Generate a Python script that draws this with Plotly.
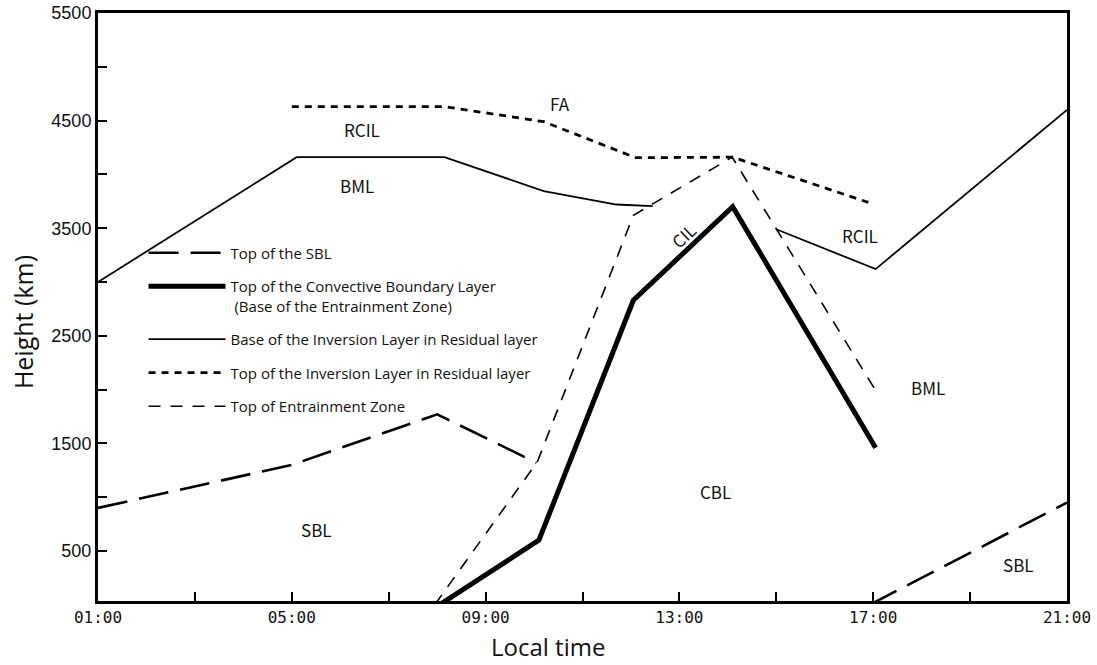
import plotly.graph_objects as go

# Local time in hours (01:00 .. 21:00) and heights of each boundary
sbl_hours = [1, 5, 8, 10.05, None, 16.93, 21]
sbl_height = [900, 1300, 1770, 1320, None, 0, 950]

cbl_hours = [8.05, 10.1, 12.05, 14.1, 17.05]
cbl_height = [0, 600, 2830, 3700, 1460]

inv_base_hours = [1, 5.1, 8.15, 10.2, 11.7, 12.45, None, 15.0, 17.05, 21]
inv_base_height = [3000, 4160, 4160, 3845, 3720, 3705, None, 3490, 3120, 4600]

inv_top_hours = [5.0, 8.15, 10.2, 12.1, 14.1, 16.9]
inv_top_height = [4630, 4630, 4490, 4155, 4160, 3740]

ez_hours = [7.95, 10.07, 12.05, 14.09, 17.08]
ez_height = [0, 1330, 3620, 4160, 1970]

series_names = [
    "Top of the SBL",
    "Top of the Convective Boundary Layer<br> (Base of the Entrainment Zone)",
    "Base of the Inversion Layer in Residual layer",
    "Top of the Inversion Layer in Residual layer",
    "Top of Entrainment Zone",
]

x_tick_vals = [1, 3, 5, 7, 9, 11, 13, 15, 17, 19, 21]
x_tick_text = ["01:00", "", "05:00", "", "09:00", "", "13:00", "", "17:00", "", "21:00"]
y_tick_vals = [500, 1000, 1500, 2000, 2500, 3000, 3500, 4000, 4500, 5000, 5500]
y_tick_text = ["500", "", "1500", "", "2500", "", "3500", "", "4500", "", "5500"]

# Layer names written inside the diagram: (text, hour, height, angle)
region_labels = [
    ("FA", 10.54, 4663, 0),
    ("RCIL", 6.45, 4413, 0),
    ("BML", 6.35, 3900, 0),
    ("CIL", 13.08, 3430, -43),
    ("RCIL", 16.73, 3430, 0),
    ("BML", 18.13, 2015, 0),
    ("CBL", 13.75, 1057, 0),
    ("SBL", 5.52, 695, 0),
    ("SBL", 19.99, 371, 0),
]

fig = go.Figure()

styles = [
    (sbl_hours, sbl_height, 2.6, "30px,12px"),
    (cbl_hours, cbl_height, 5, "solid"),
    (inv_base_hours, inv_base_height, 1.8, "solid"),
    (inv_top_hours, inv_top_height, 2.8, "7px,6px"),
    (ez_hours, ez_height, 1.6, "12px,10px"),
]

for i, (xs, ys, w, dash) in enumerate(styles):
    fig.add_trace(go.Scatter(
        x=xs, y=ys, mode="lines", name=series_names[i],
        legendgroup=f"g{i}",
        line=dict(color="black", width=w, dash=dash),
        connectgaps=False,
    ))

for text, hx, hy, ang in region_labels:
    fig.add_annotation(
        x=hx, y=hy, text=text, showarrow=False, textangle=ang,
        font=dict(family="Noto Sans CJK SC", size=17, color="#111"),
    )

# Axis titles
fig.add_annotation(
    xref="paper", yref="paper", x=-0.078, y=0.475, text="Height (km)",
    xanchor="center", yanchor="middle",
    textangle=-90, showarrow=False,
    font=dict(family="Open Sans", size=25, color="#111"),
)
fig.add_annotation(
    xref="paper", yref="paper", x=0.464, y=-0.078, text="Local time",
    xanchor="center", yanchor="middle",
    showarrow=False, font=dict(family="Open Sans", size=24, color="#111"),
)

fig.update_xaxes(
    range=[1, 21], tickmode="array", tickvals=x_tick_vals, ticktext=x_tick_text,
    ticks="inside", ticklen=9, tickwidth=2, tickcolor="black",
    showline=True, linewidth=3, linecolor="black", mirror=True,
    showgrid=False, zeroline=False, automargin=False,
    tickfont=dict(family="DejaVu Sans Mono", size=16, color="#111"),
)
fig.update_yaxes(
    range=[35, 5500], tickmode="array", tickvals=y_tick_vals, ticktext=y_tick_text,
    ticks="inside", ticklen=9, tickwidth=2, tickcolor="black",
    showline=True, linewidth=3, linecolor="black", mirror=True,
    showgrid=False, zeroline=False, automargin=False,
    tickfont=dict(family="Liberation Sans", size=18, color="#111"),
)

fig.update_layout(
    width=1097, height=665,
    margin=dict(l=98, r=30, t=13, b=64, autoexpand=False),
    paper_bgcolor="white", plot_bgcolor="white",
    showlegend=True,
    legend=dict(
        x=0.047, y=0.620, xanchor="left", yanchor="top",
        bgcolor="rgba(0,0,0,0)", itemwidth=77,
        traceorder="grouped", tracegroupgap=11, valign="top",
        font=dict(family="Open Sans", size=15, color="#111"),
    ),
)

fig.write_html("out.html")
